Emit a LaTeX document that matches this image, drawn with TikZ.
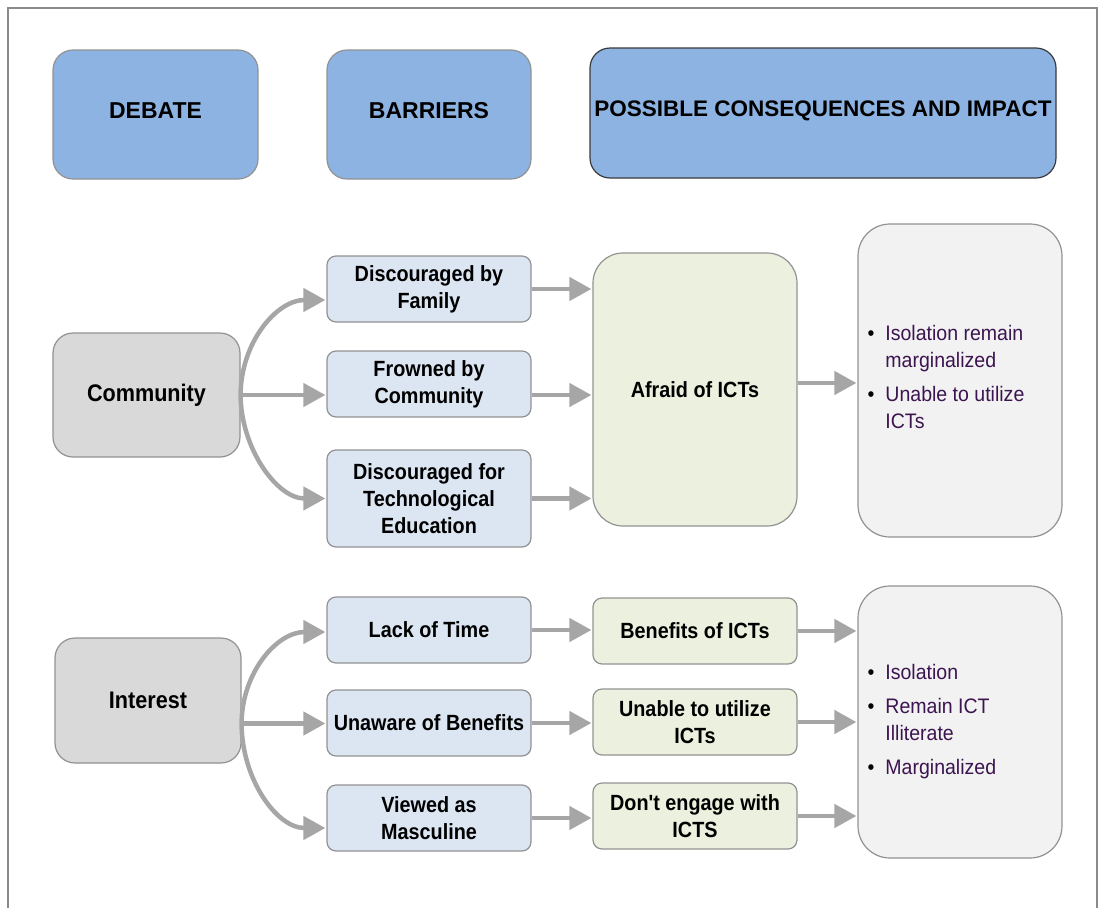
\documentclass[tikz,border=0pt]{standalone}
\usepackage{fontspec}
\setmainfont{Liberation Sans}
\newfontfamily\narrowfont[FakeStretch=0.9]{Liberation Sans}
\newfontfamily\listfont[FakeStretch=0.93]{Liberation Sans}
\usetikzlibrary{arrows.meta}

\definecolor{framegray}{HTML}{8A8A8A}
\definecolor{boxgray}{HTML}{929292}
\definecolor{darkedge}{HTML}{3A3A3A}
\definecolor{headblue}{HTML}{8DB3E2}
\definecolor{topicgray}{HTML}{D9D9D9}
\definecolor{barrierblue}{HTML}{DCE6F2}
\definecolor{effectgreen}{HTML}{EBF1DE}
\definecolor{resultgray}{HTML}{F2F2F2}
\definecolor{arrowgray}{HTML}{A6A6A6}
\definecolor{listpurple}{HTML}{3C1450}

\begin{document}
\begin{tikzpicture}[x=1pt,y=-1pt,
  base/.style={draw=boxgray, line width=1.2pt, inner sep=2pt, align=center},
  header/.style={base, fill=headblue, rounded corners=20pt, text depth=8pt,
    minimum height=129pt, font=\bfseries\fontsize{23}{26}\selectfont},
  topic/.style={base, fill=topicgray, rounded corners=20pt,
    minimum height=124pt, font=\narrowfont\bfseries\fontsize{24}{28}\selectfont},
  barrier/.style={base, fill=barrierblue, rounded corners=9pt,
    minimum width=204pt, minimum height=66pt,
    font=\narrowfont\bfseries\fontsize{22}{27}\selectfont},
  effect/.style={barrier, fill=effectgreen},
  result/.style={base, fill=resultgray, rounded corners=32pt, minimum width=204pt},
  bullets/.style={anchor=west, inner sep=0pt, text=listpurple,
    font=\listfont\fontsize{21}{27}\selectfont},
  arr/.style={draw=arrowgray, line width=4.5pt,
    -{Triangle[length=22pt,width=23pt]}, shorten >=1pt}
]
\useasboundingbox (0,0) rectangle (1101,908);

% outer frame (open at the bottom)
\draw[framegray, line width=2pt] (7.5,908) -- (7.5,7.5) -- (1097,7.5) -- (1097,908);

% column headers
\node[header, minimum width=205pt] (deb) at (155.5,114.5) {DEBATE};
\node[header, minimum width=204pt] (bar) at (429,114.5) {BARRIERS};
\node[header, draw=darkedge, minimum width=466pt, minimum height=130pt,
  font=\bfseries\fontsize{22.5}{26}\selectfont] (pos) at (823,113)
  {POSSIBLE CONSEQUENCES AND IMPACT};

% ---- community branch ----
\node[topic, minimum width=187pt] (com) at (146.5,395) {Community};
\node[barrier] (fam) at (429,289) {Discouraged by\\Family};
\node[barrier] (frw) at (429,384) {Frowned by\\Community};
\node[barrier, minimum height=97pt] (tec) at (429,498.5) {Discouraged for\\Technological\\Education};
\node[effect, minimum height=273pt, rounded corners=30pt] (afr) at (695,389.5) {Afraid of ICTs};
\node[result, minimum height=313pt] (res1) at (960,380.5) {};
\node[bullets] (list1) at ([xshift=10pt,yshift=1pt]res1.west) {%
  \begin{tabular}{@{}l@{\hspace{11pt}}l@{}}
  \textcolor{black}{\textbullet} & Isolation remain\\
   & marginalized\\[7pt]
  \textcolor{black}{\textbullet} & Unable to utilize\\
   & ICTs
  \end{tabular}};

\coordinate (cb) at (com.east);
\draw[arr] (cb) .. controls +(0,-52) and +(-50,0) .. ([yshift=-11pt]fam.west);
\draw[arr] (cb) -- (cb -| frw.west);
\draw[arr] (cb) .. controls +(0,52) and +(-50,0) .. (tec.west);

\draw[arr] (fam.east) -- (fam.east -| afr.west);
\draw[arr] ([yshift=-11pt]frw.east) -- ([yshift=-11pt]frw.east -| afr.west);
\draw[arr] (tec.east) -- (tec.east -| afr.west);
\draw[arr] ([yshift=6.5pt]afr.east) -- ([yshift=6.5pt]afr.east -| res1.west);

% ---- interest branch ----
\node[topic, minimum width=186pt, minimum height=125pt] (int) at (148,700.5) {Interest};
\node[barrier] (lack) at (429,630) {Lack of Time};
\node[barrier] (unaw) at (429,723) {Unaware of Benefits};
\node[barrier] (view) at (429,818) {Viewed as\\Masculine};
\node[effect] (ben) at (695,631) {Benefits of ICTs};
\node[effect] (una) at (695,722) {Unable to utilize\\ICTs};
\node[effect] (dont) at (695,816) {Don't engage with\\ICTS};
\node[result, minimum height=272pt] (res2) at (960,722) {};
\node[bullets] (list2) at ([xshift=10pt]res2.west) {%
  \begin{tabular}{@{}l@{\hspace{11pt}}l@{}}
  \textcolor{black}{\textbullet} & Isolation\\[7pt]
  \textcolor{black}{\textbullet} & Remain ICT\\
   & Illiterate\\[7pt]
  \textcolor{black}{\textbullet} & Marginalized
  \end{tabular}};

\coordinate (ib) at ([yshift=-23pt]int.east);
\draw[arr] (ib) .. controls +(0,-50) and +(-50,0) .. ([yshift=-2pt]lack.west);
\draw[arr] (ib) -- (ib -| unaw.west);
\draw[arr] (ib) .. controls +(0,55) and +(-50,0) .. ([yshift=-10pt]view.west);

\draw[arr] (lack.east) -- (lack.east -| ben.west);
\draw[arr] (unaw.east) -- (unaw.east -| una.west);
\draw[arr] (view.east) -- (view.east -| dont.west);
\draw[arr] (ben.east) -- (ben.east -| res2.west);
\draw[arr] (una.east) -- (una.east -| res2.west);
\draw[arr] (dont.east) -- (dont.east -| res2.west);
\end{tikzpicture}
\end{document}
